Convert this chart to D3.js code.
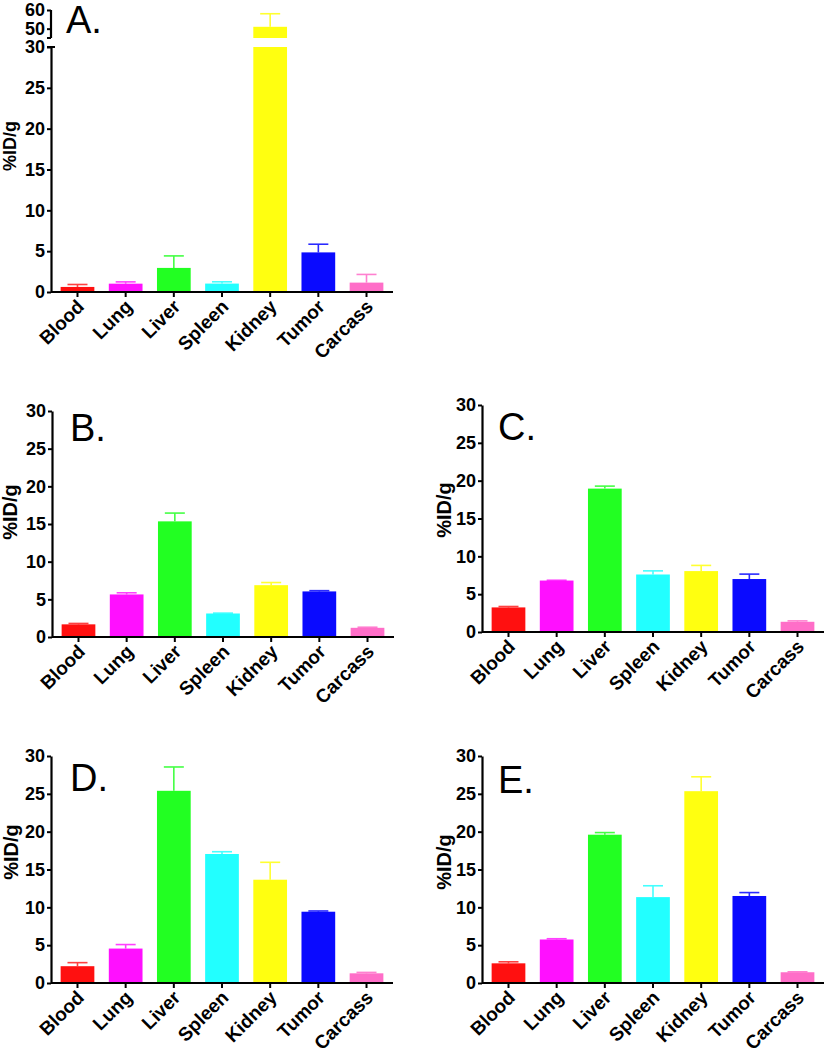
<!DOCTYPE html>
<html>
<head>
<meta charset="utf-8">
<script src="https://cdn.jsdelivr.net/npm/d3@7"></script>
<style>
  body { margin: 0; background: #fff; }
  svg { display: block; }
  text { font-family: "Liberation Sans", Arial, sans-serif; }
</style>
</head>
<body>
<svg id="chart" width="825" height="1050"></svg>
<script>
// ---------- data ----------
const categories = ["Blood", "Lung", "Liver", "Spleen", "Kidney", "Tumor", "Carcass"];
const barColors = ["#ff1010", "#ff10ff", "#22ff22", "#22ffff", "#ffff10", "#0a0aff", "#ff6ec8"];
const errColors = ["#ff4040", "#ff40ff", "#44ff44", "#44ffff", "#ffff30", "#2a2aff", "#ff80d0"];

const valuesA = [0.62, 1.02, 2.95, 1.03, 51.0, 4.85, 1.15];
const errorsA = [0.3, 0.22, 1.47, 0.22, 7.0, 1.0, 1.0];
const valuesB = [1.68, 5.65, 15.35, 3.12, 6.88, 6.05, 1.22];
const errorsB = [0.12, 0.22, 1.1, 0.05, 0.35, 0.1, 0.08];
const valuesC = [3.25, 6.8, 18.95, 7.6, 8.05, 7.0, 1.35];
const errorsC = [0.12, 0.04, 0.33, 0.48, 0.75, 0.65, 0.12];
const valuesD = [2.22, 4.55, 25.4, 17.05, 13.65, 9.42, 1.28];
const errorsD = [0.47, 0.53, 3.15, 0.3, 2.3, 0.1, 0.12];
const valuesE = [2.6, 5.75, 19.6, 11.35, 25.35, 11.5, 1.42];
const errorsE = [0.2, 0.1, 0.28, 1.5, 1.9, 0.45, 0.06];

const yTicks = [0, 5, 10, 15, 20, 25, 30];
const yTicksUpperA = [50, 60];
const panelLetters = ["A.", "B.", "C.", "D.", "E."];
const yLabel = "%ID/g";

// ---------- layout ----------
const svg = d3.select("#chart");
const FONT_TICK = "bold 18px 'Liberation Sans', Arial, sans-serif";

const panels = [
  { letter: panelLetters[0], values: valuesA, errors: errorsA, x0: 51, yBot: 292, yTop: 47, lx: 66, ly: 33, ylx: 16, yly: 146, ylSize: 18, broken: true },
  { letter: panelLetters[1], values: valuesB, errors: errorsB, x0: 52, yBot: 637, yTop: 411, lx: 70, ly: 441, ylx: 17, yly: 512, ylSize: 20 },
  { letter: panelLetters[2], values: valuesC, errors: errorsC, x0: 482, yBot: 632, yTop: 405, lx: 498, ly: 440, ylx: 451, yly: 510, ylSize: 20 },
  { letter: panelLetters[3], values: valuesD, errors: errorsD, x0: 51, yBot: 983, yTop: 756, lx: 70, ly: 791, ylx: 18, yly: 852, ylSize: 20 },
  { letter: panelLetters[4], values: valuesE, errors: errorsE, x0: 482, yBot: 983, yTop: 756, lx: 498, ly: 793, ylx: 451, yly: 862, ylSize: 20 }
];

function styleAxis(g) {
  g.select(".domain").attr("stroke", "#000").attr("stroke-width", 2.2);
  g.selectAll(".tick line").attr("stroke", "#000").attr("stroke-width", 2);
  g.selectAll(".tick text").style("font", FONT_TICK).attr("fill", "#000");
}

function drawPanel(p) {
  const g = svg.append("g");
  const x = d3.scaleBand().domain(categories)
    .range([p.x0, p.x0 + 342]).paddingInner(0.3).paddingOuter(0.2);
  const y = d3.scaleLinear().domain([0, 30]).range([p.yBot, p.yTop]);
  const yU = d3.scaleLinear().domain([45, 60]).range([p.yTop - 9, p.yTop - 37]);
  const bw = x.bandwidth();

  const data = categories.map((c, i) => ({ c, v: p.values[i], e: p.errors[i], i }));

  // error bars (drawn first; bar covers lower part)
  data.forEach(d => {
    const cx = x(d.c) + bw / 2;
    const top = d.v + d.e;
    const sc = (p.broken && d.v > 30) ? yU : y;
    g.append("line").attr("x1", cx).attr("x2", cx)
      .attr("y1", sc(d.v)).attr("y2", sc(top))
      .attr("stroke", errColors[d.i]).attr("stroke-width", 1.6);
    g.append("line").attr("x1", cx - 10).attr("x2", cx + 10)
      .attr("y1", sc(top)).attr("y2", sc(top))
      .attr("stroke", errColors[d.i]).attr("stroke-width", 1.6);
  });

  // bars
  g.selectAll("rect.bar").data(data).join("rect")
    .attr("class", "bar")
    .attr("x", d => x(d.c)).attr("width", bw)
    .attr("y", d => y(Math.min(d.v, 30)))
    .attr("height", d => y(0) - y(Math.min(d.v, 30)))
    .attr("fill", d => barColors[d.i]);

  if (p.broken) {
    g.selectAll("rect.barU").data(data.filter(d => d.v > 30)).join("rect")
      .attr("class", "barU")
      .attr("x", d => x(d.c)).attr("width", bw)
      .attr("y", d => yU(d.v))
      .attr("height", d => yU(45) - yU(d.v))
      .attr("fill", d => barColors[d.i]);
    const gu = g.append("g").attr("transform", `translate(${p.x0},0)`)
      .call(d3.axisLeft(yU).tickValues(yTicksUpperA).tickSize(4).tickSizeOuter(0).tickPadding(2));
    styleAxis(gu);
    gu.select(".domain").attr("d", `M0,${yU(60)}V${yU(45)}`);
    gu.append("line").attr("x1", -4).attr("x2", 0).attr("y1", yU(45)).attr("y2", yU(45))
      .attr("stroke", "#000").attr("stroke-width", 2);
  }

  // y axis
  const gy = g.append("g").attr("transform", `translate(${p.x0},0)`)
    .call(d3.axisLeft(y).tickValues(yTicks).tickSize(4).tickSizeOuter(0).tickPadding(2));
  styleAxis(gy);
  if (p.broken) {
    gy.append("line").attr("x1", -4).attr("x2", 4).attr("y1", y(30)).attr("y2", y(30))
      .attr("stroke", "#000").attr("stroke-width", 2);
  }

  // x axis
  const gx = g.append("g").attr("transform", `translate(0,${p.yBot})`)
    .call(d3.axisBottom(x).tickSize(5).tickSizeOuter(0));
  styleAxis(gx);
  gx.select(".domain").attr("d", `M${p.x0},0H${p.x0 + 342}`);
  gx.selectAll(".tick text")
    .style("font", "bold 19px 'Liberation Sans', Arial, sans-serif")
    .attr("text-anchor", "end")
    .attr("x", 0).attr("y", 0).attr("dy", "0.35em")
    .attr("transform", "translate(3,11) rotate(-45)");

  // y label
  g.append("text")
    .attr("transform", `translate(${p.ylx},${p.yly}) rotate(-90)`)
    .attr("text-anchor", "middle")
    .style("font", `bold ${p.ylSize}px 'Liberation Sans', Arial, sans-serif`)
    .text(yLabel);

  // panel letter
  g.append("text").attr("x", p.lx).attr("y", p.ly)
    .style("font", "38px 'Liberation Sans', Arial, sans-serif")
    .text(p.letter);
}

panels.forEach(drawPanel);
</script>
</body>
</html>
